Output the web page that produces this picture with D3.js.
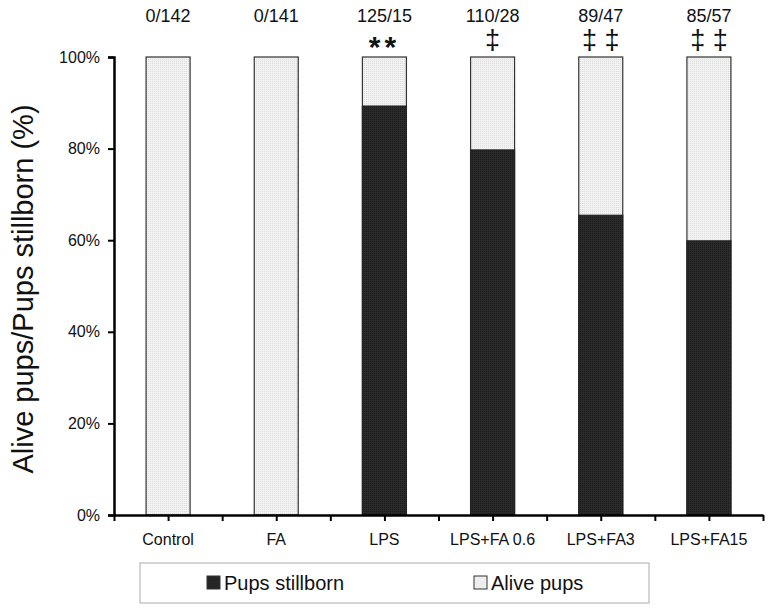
<!DOCTYPE html>
<html>
<head>
<meta charset="utf-8">
<script src="https://cdn.jsdelivr.net/npm/d3@7"></script>
<style>
  body { margin: 0; background: #fff; }
  text { font-family: "Liberation Sans", Arial, sans-serif; fill: #111; }
</style>
</head>
<body>
<svg id="chart"></svg>
<script>
// groups and counts (stillborn / alive)
const groups = ["Control", "FA", "LPS", "LPS+FA 0.6", "LPS+FA3", "LPS+FA15"];
const stillborn = [0, 0, 125, 110, 89, 85];
const alive = [142, 141, 15, 28, 47, 57];
const marks = ["", "", "**", "‡", "‡ ‡", "‡ ‡"];
const yTicks = [0, 0.2, 0.4, 0.6, 0.8, 1.0];

const width = 772, height = 612;
const margin = { top: 57, right: 9, bottom: 97, left: 114 };
const w = width - margin.left - margin.right;
const h = height - margin.top - margin.bottom;

const svg = d3.select("#chart").attr("width", width).attr("height", height);

// light dotted texture for bars
const defs = svg.append("defs");
const pl = defs.append("pattern").attr("id", "lightPat").attr("width", 2).attr("height", 2)
  .attr("patternUnits", "userSpaceOnUse");
pl.append("rect").attr("width", 2).attr("height", 2).attr("fill", "#f2f2f2");
pl.append("rect").attr("width", 1).attr("height", 1).attr("fill", "#dcdcdc");
const pd = defs.append("pattern").attr("id", "darkPat").attr("width", 2).attr("height", 2)
  .attr("patternUnits", "userSpaceOnUse");
pd.append("rect").attr("width", 2).attr("height", 2).attr("fill", "#2a2a2a");
pd.append("rect").attr("width", 1).attr("height", 1).attr("fill", "#1a1a1a");

const g = svg.append("g").attr("transform", `translate(${margin.left},${margin.top})`);

const x = d3.scaleBand().domain(groups).range([0, w]).paddingInner(0).paddingOuter(0);
const y = d3.scaleLinear().domain([0, 1]).range([h, 0]);
const barW = 44;

const data = groups.map((grp, i) => {
  const tot = stillborn[i] + alive[i];
  return { grp, still: stillborn[i] / tot, label: `${stillborn[i]}/${alive[i]}`, mark: marks[i] };
});

// alive part (full bar background)
g.selectAll("rect.alive")
  .data(data)
  .join("rect")
  .attr("class", "alive")
  .attr("x", d => x(d.grp) + x.bandwidth() / 2 - barW / 2)
  .attr("y", y(1))
  .attr("width", barW)
  .attr("height", y(0) - y(1))
  .attr("fill", "url(#lightPat)")
  .attr("stroke", "#333")
  .attr("stroke-width", 1.2);

// stillborn part
g.selectAll("rect.still")
  .data(data.filter(d => d.still > 0))
  .join("rect")
  .attr("class", "still")
  .attr("x", d => x(d.grp) + x.bandwidth() / 2 - barW / 2)
  .attr("y", d => y(d.still))
  .attr("width", barW)
  .attr("height", d => y(0) - y(d.still))
  .attr("fill", "url(#darkPat)")
  .attr("stroke", "#222")
  .attr("stroke-width", 1.2);

// Y axis
const yAxis = g.append("g")
  .call(d3.axisLeft(y).tickValues(yTicks).tickFormat(d3.format(".0%")).tickSize(6).tickPadding(8));
yAxis.select(".domain").attr("stroke", "#000").attr("stroke-width", 2.5);
yAxis.selectAll(".tick line").attr("stroke", "#000").attr("stroke-width", 2);
yAxis.selectAll(".tick text").style("font-size", "16px").attr("fill", "#111");

// X axis: ticks at band edges and centres
const xTickVals = d3.range(0, groups.length * 2 + 1).map(k => k * x.bandwidth() / 2);
const xLin = d3.scaleLinear().domain([0, w]).range([0, w]);
const xAxis = g.append("g").attr("transform", `translate(0,${h})`)
  .call(d3.axisBottom(xLin).tickValues(xTickVals).tickFormat("").tickSize(6).tickSizeOuter(0));
xAxis.select(".domain").attr("stroke", "#000").attr("stroke-width", 2.5);
xAxis.selectAll(".tick line").attr("stroke", "#000").attr("stroke-width", 2);

// category labels
g.selectAll("text.cat")
  .data(groups)
  .join("text")
  .attr("class", "cat")
  .attr("x", d => x(d) + x.bandwidth() / 2)
  .attr("y", h + 30)
  .attr("text-anchor", "middle")
  .style("font-size", "16px")
  .text(d => d);

// count labels above bars
g.selectAll("text.count")
  .data(data)
  .join("text")
  .attr("class", "count")
  .attr("x", d => x(d.grp) + x.bandwidth() / 2)
  .attr("y", -35)
  .attr("text-anchor", "middle")
  .style("font-size", "18px")
  .text(d => d.label);

// significance marks
g.selectAll("text.mark")
  .data(data.filter(d => d.mark))
  .join("text")
  .attr("class", "mark")
  .attr("x", d => x(d.grp) + x.bandwidth() / 2)
  .attr("y", d => d.mark === "**" ? 0 : -8)
  .attr("text-anchor", "middle")
  .style("font-size", d => d.mark === "**" ? "30px" : "27px")
  .style("font-weight", d => d.mark === "**" ? "bold" : "normal")
  .style("letter-spacing", d => d.mark === "**" ? "4px" : "0px")
  .text(d => d.mark);

// y axis title
svg.append("text")
  .attr("transform", `translate(33,${margin.top + h / 2 + 3}) rotate(-90)`)
  .attr("text-anchor", "middle")
  .style("font-size", "29px")
  .text("Alive pups/Pups stillborn (%)");

// legend
const leg = svg.append("g");
leg.append("rect").attr("x", 140).attr("y", 563).attr("width", 509).attr("height", 40)
  .attr("fill", "#fff").attr("stroke", "#aaa").attr("stroke-width", 1);
const legItems = [
  { label: "Pups stillborn", fill: "#262626", x: 207 },
  { label: "Alive pups", fill: "#eeeeee", x: 474 }
];
legItems.forEach(it => {
  leg.append("rect").attr("x", it.x).attr("y", 576).attr("width", 13).attr("height", 13)
    .attr("fill", it.fill).attr("stroke", "#333").attr("stroke-width", 1);
  leg.append("text").attr("x", it.x + 17).attr("y", 590).style("font-size", "20px").text(it.label);
});
</script>
</body>
</html>
